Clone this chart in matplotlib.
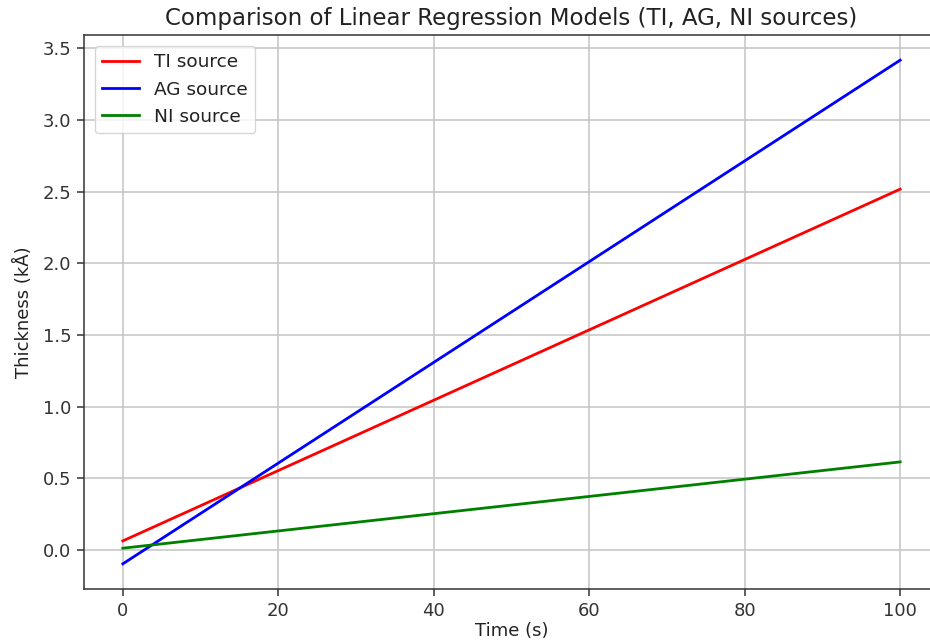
import matplotlib
matplotlib.use("Agg")
import matplotlib.pyplot as plt

# fitted regression lines, evaluated at the ends of the time range
time_s = [0, 100]
ti_thickness = [0.063, 2.517]
ag_thickness = [-0.097, 3.417]
ni_thickness = [0.012, 0.614]

series_labels = ["TI source", "AG source", "NI source"]
series_colors = ["red", "blue", "green"]

fig = plt.figure(figsize=(9.3, 6.44), dpi=100)
ax = fig.add_axes([84 / 930, 55 / 644, 855 / 930, 554 / 644])

for y, lab, col in zip([ti_thickness, ag_thickness, ni_thickness], series_labels, series_colors):
    ax.plot(time_s, y, color=col, lw=2, label=lab)

ax.set_xticks([0, 20, 40, 60, 80, 100])
ax.set_yticks([0.0, 0.5, 1.0, 1.5, 2.0, 2.5, 3.0, 3.5])
ax.tick_params(labelsize=13, length=5, width=1.1, pad=4, colors="#333333")
ax.grid(True, color="#c8c8c8", lw=1.2)
ax.set_xlabel("Time (s)", fontsize=13, labelpad=2, color="#222222")
ax.set_ylabel("Thickness (kÅ)", fontsize=13, labelpad=7, color="#222222")
ax.set_title("Comparison of Linear Regression Models (TI, AG, NI sources)",
             fontsize=16.5, pad=7, color="#222222")
for s in ax.spines.values():
    s.set_color("#333333")
    s.set_linewidth(1.1)
ax.spines["right"].set_visible(False)
leg = ax.legend(loc="upper left", fontsize=13.3, borderaxespad=0.6)
for t in leg.get_texts():
    t.set_color("#222222")

fig.savefig("out.png", dpi=100)
